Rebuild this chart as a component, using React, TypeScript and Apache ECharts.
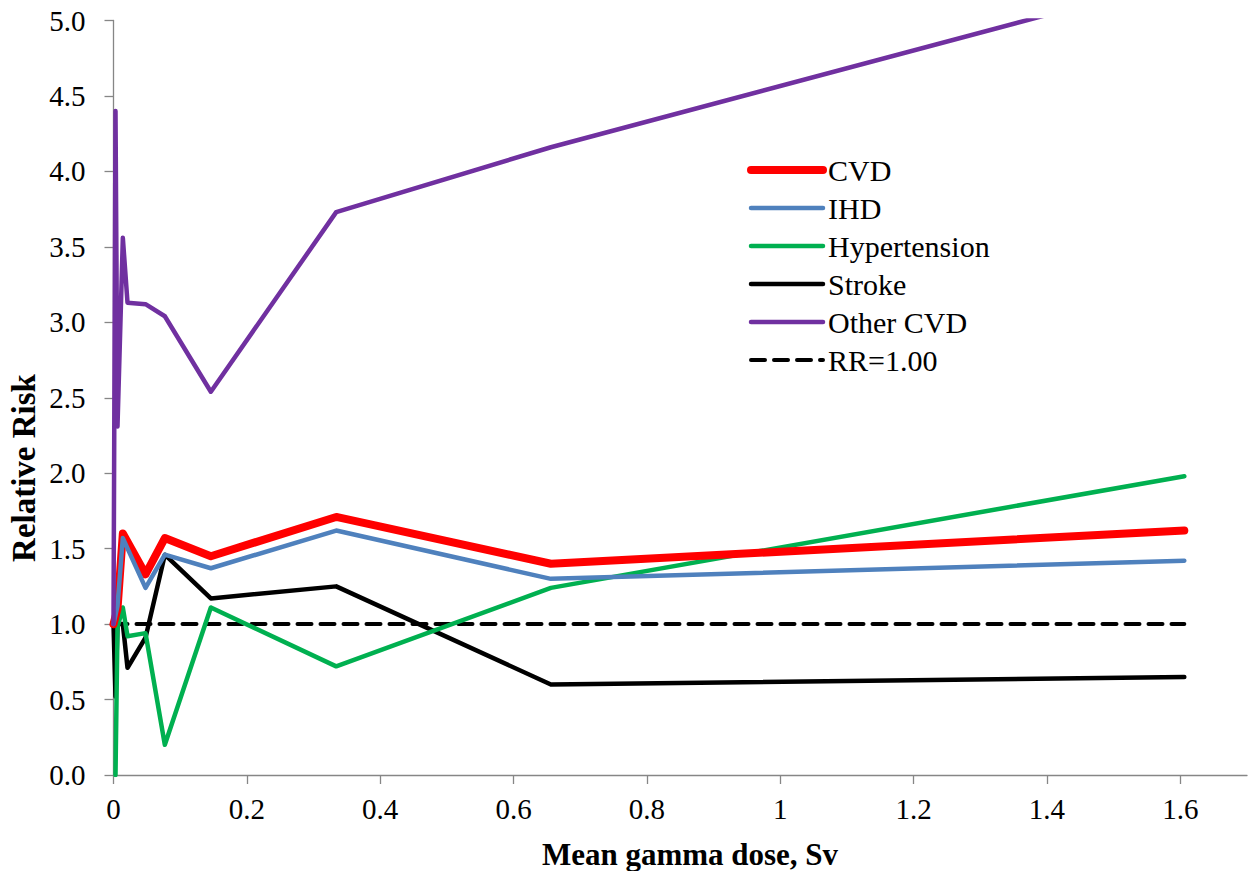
import React, { useEffect, useRef } from "react";
import * as echarts from "echarts";

// Mean gamma dose (Sv) of each dose group
const dose = [0, 0.003, 0.006, 0.014, 0.021, 0.048, 0.077, 0.146, 0.334, 0.656, 1.606];

// Relative risk per outcome (null = no point in that group)
const cvd = [1.0, null, 1.1, 1.6, null, 1.33, 1.57, 1.45, 1.71, 1.4, 1.62];
const ihd = [1.0, null, 1.12, 1.57, null, 1.24, 1.46, 1.37, 1.62, 1.3, 1.42];
const hypertension = [null, 0.0, 0.98, 1.11, 0.92, 0.94, 0.2, 1.11, 0.72, 1.24, 1.98];
const stroke = [1.0, 0.52, 1.0, 1.0, 0.71, 0.91, 1.46, 1.17, 1.25, 0.6, 0.65];
const otherCvd = [1.0, 4.4, 2.31, 3.56, 3.13, 3.12, 3.04, 2.54, 3.73, 4.16, 5.28];

// Reference line RR = 1.00
const rrX = [0, 1.606];
const rrY = [1.0, 1.0];

const seriesNames = ["CVD", "IHD", "Hypertension", "Stroke", "Other CVD", "RR=1.00"];

const FONT = "'Liberation Serif', 'Times New Roman', serif";

function pairs(xs: number[], ys: (number | null)[]) {
  const out: number[][] = [];
  xs.forEach((x, i) => {
    const y = ys[i];
    if (y !== null && y !== undefined) out.push([x, y]);
  });
  return out;
}

function lineSeries(name: string, xs: number[], ys: (number | null)[], color: string, width: number, type: any = "solid", z = 2) {
  return {
    name,
    type: "line",
    data: pairs(xs, ys),
    symbol: "none",
    showSymbol: false,
    connectNulls: true,
    z,
    lineStyle: { color, width, type, cap: "round", join: "round" },
    itemStyle: { color },
    emphasis: { disabled: true },
  };
}

export default function App() {
  const ref = useRef<HTMLDivElement>(null);

  useEffect(() => {
    if (!ref.current) return;
    const chart = echarts.init(ref.current, null, { renderer: "svg" });
    const option: any = {
      animation: false,
      backgroundColor: "#ffffff",
      grid: { left: 113.5, right: 1, top: 20.5, bottom: 96, containLabel: false },
      xAxis: {
        type: "value",
        min: 0,
        max: 1.7,
        interval: 0.2,
        axisLine: { show: true, lineStyle: { color: "#868686", width: 1.3 } },
        axisTick: { show: true, length: 9, lineStyle: { color: "#868686", width: 1.3 } },
        splitLine: { show: false },
        axisLabel: {
          showMaxLabel: false,
          margin: 19,
          color: "#000",
          fontFamily: FONT,
          fontSize: 29,
          formatter: (v: number) => (Math.abs(v - 1.7) < 1e-9 ? "" : String(Number(v.toFixed(1)))),
        },
      },
      yAxis: {
        type: "value",
        min: 0,
        max: 5,
        interval: 0.5,
        axisLine: { show: true, lineStyle: { color: "#868686", width: 1.3 } },
        axisTick: { show: true, length: 9, lineStyle: { color: "#868686", width: 1.3 } },
        splitLine: { show: false },
        axisLabel: {
          margin: 28,
          color: "#000",
          fontFamily: FONT,
          fontSize: 29,
          formatter: (v: number) => v.toFixed(1),
        },
      },
      legend: {
        data: seriesNames,
        orient: "vertical",
        left: 742,
        top: 150,
        itemWidth: 72,
        itemHeight: 14,
        itemGap: 8,
        selectedMode: false,
        itemStyle: { opacity: 0, borderWidth: 0 },
        lineStyle: { width: "inherit" },
        textStyle: { fontFamily: FONT, fontSize: 30, color: "#000", lineHeight: 30 },
      },
      graphic: [
        {
          type: "text",
          x: 24,
          y: 468,
          rotation: Math.PI / 2,
          style: {
            text: "Relative Risk",
            font: `bold 33px ${FONT}`,
            fill: "#000",
            textAlign: "center",
            textVerticalAlign: "middle",
          },
        },
        {
          type: "text",
          x: 690,
          y: 854,
          style: {
            text: "Mean gamma dose, Sv",
            font: `bold 31px ${FONT}`,
            fill: "#000",
            textAlign: "center",
            textVerticalAlign: "middle",
          },
        },
      ],
      series: [
        lineSeries("RR=1.00", rrX, rrY, "#000000", 4, [14, 9], 1),
        lineSeries("Stroke", dose, stroke, "#000000", 4.5, "solid", 2),
        lineSeries("Hypertension", dose, hypertension, "#00B050", 4.5, "solid", 2),
        lineSeries("IHD", dose, ihd, "#4F81BD", 4.5, "solid", 4),
        lineSeries("CVD", dose, cvd, "#FF0000", 8, "solid", 3),
        lineSeries("Other CVD", dose, otherCvd, "#7030A0", 4.5, "solid", 5),
      ],
    };
    chart.setOption(option);
    return () => chart.dispose();
  }, []);

  return (
    <div
      ref={ref}
      style={{ position: "absolute", left: 0, top: 0, width: 1248, height: 871, background: "#fff" }}
    />
  );
}
